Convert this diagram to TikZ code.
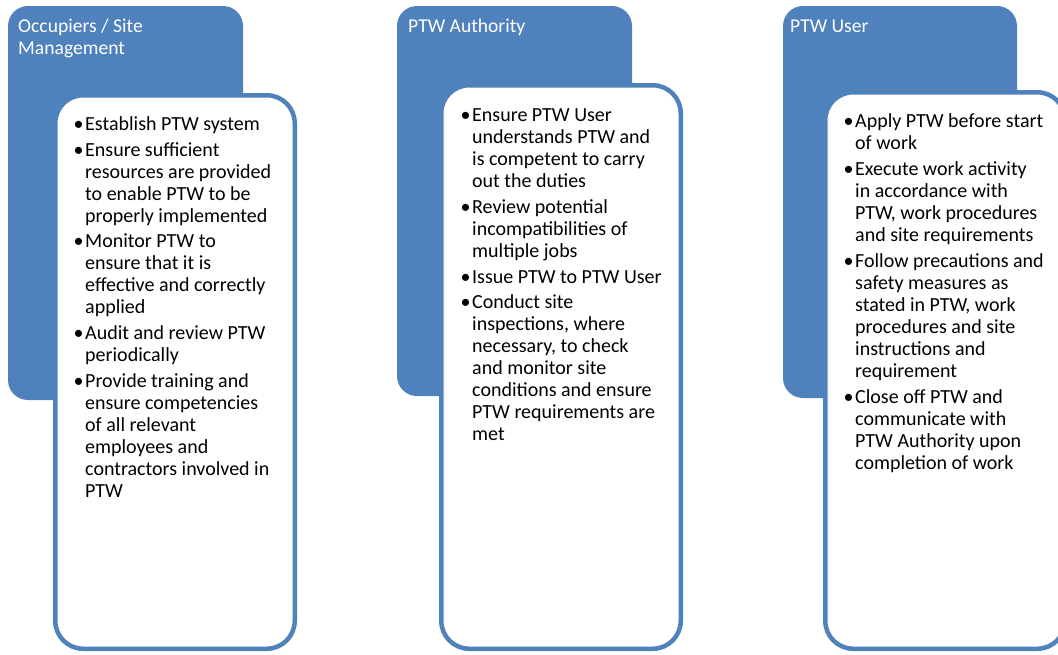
\documentclass[tikz,border=0pt]{standalone}
\usepackage{fontspec}
\setmainfont{Carlito}
\definecolor{ptwblue}{RGB}{79,129,189}
\newcommand{\bl}{\llap{\textbullet\hspace{1.5pt}}}
\begin{document}
\begin{tikzpicture}[x=1pt,y=-1pt,
  hdrbox/.style={fill=ptwblue, draw=none, rounded corners=20pt, anchor=north west, inner sep=0pt, outer sep=0pt},
  bodybox/.style={fill=white, draw=ptwblue, line width=4.5pt, rounded corners=28pt, anchor=north west, inner sep=0pt, outer sep=0pt},
  hdrtext/.style={anchor=base west, inner sep=0pt, text=white, font=\fontsize{19.6}{22}\selectfont},
  bodytext/.style={anchor=base west, inner sep=0pt, text=black, font=\fontsize{20}{22}\selectfont}]
\useasboundingbox (0,0) rectangle (1058,654);
\clip (0,0) rectangle (1058,654);
\fill[white] (0,0) rectangle (1058,654);
% column 1
\node[hdrbox, minimum width=235pt, minimum height=394pt] (h1) at (8,6) {};
\node[bodybox, minimum width=239.5pt, minimum height=553.5pt] (b1) at (55.25,95.25) {};
\node[hdrtext] (t1) at (18,32) {\begin{tabular}[t]{@{}l@{}}Occupiers / Site\\Management\end{tabular}};
\node[bodytext] (l1) at (85,130) {\begin{tabular}[t]{@{}l@{}}
\bl Establish PTW system\\[4pt]
\bl Ensure sufficient\\
resources are provided\\
to enable PTW to be\\
properly implemented\\[3.5pt]
\bl Monitor PTW to\\
ensure that it is\\
effective and correctly\\
applied\\[4pt]
\bl Audit and review PTW\\
periodically\\[4pt]
\bl Provide training and\\
ensure competencies\\
of all relevant\\
employees and\\
contractors involved in\\
PTW
\end{tabular}};
% column 2
\node[hdrbox, minimum width=235pt, minimum height=390pt] (h2) at (397,6) {};
\node[bodybox, minimum width=239.5pt, minimum height=563.5pt] (b2) at (441.25,85.25) {};
\node[hdrtext] (t2) at (408,32) {PTW Authority};
\node[bodytext] (l2) at (472,121) {\begin{tabular}[t]{@{}l@{}}
\bl Ensure PTW User\\
understands PTW and\\
is competent to carry\\
out the duties\\[4pt]
\bl Review potential\\
incompatibilities of\\
multiple jobs\\[4pt]
\bl Issue PTW to PTW User\\[3.5pt]
\bl Conduct site\\
inspections, where\\
necessary, to check\\
and monitor site\\
conditions and ensure\\
PTW requirements are\\
met
\end{tabular}};
% column 3
\node[hdrbox, minimum width=234pt, minimum height=392pt] (h3) at (783,6) {};
\node[bodybox, minimum width=240pt, minimum height=556.5pt] (b3) at (825.25,92.25) {};
\node[hdrtext] (t3) at (790,32) {PTW User};
\node[bodytext] (l3) at (855,127) {\begin{tabular}[t]{@{}l@{}}
\bl Apply PTW before start\\
of work\\[4.5pt]
\bl Execute work activity\\
in accordance with\\
PTW, work procedures\\
and site requirements\\[4pt]
\bl Follow precautions and\\
safety measures as\\
stated in PTW, work\\
procedures and site\\
instructions and\\
requirement\\[3.5pt]
\bl Close off PTW and\\
communicate with\\
PTW Authority upon\\
completion of work
\end{tabular}};
\end{tikzpicture}
\end{document}
